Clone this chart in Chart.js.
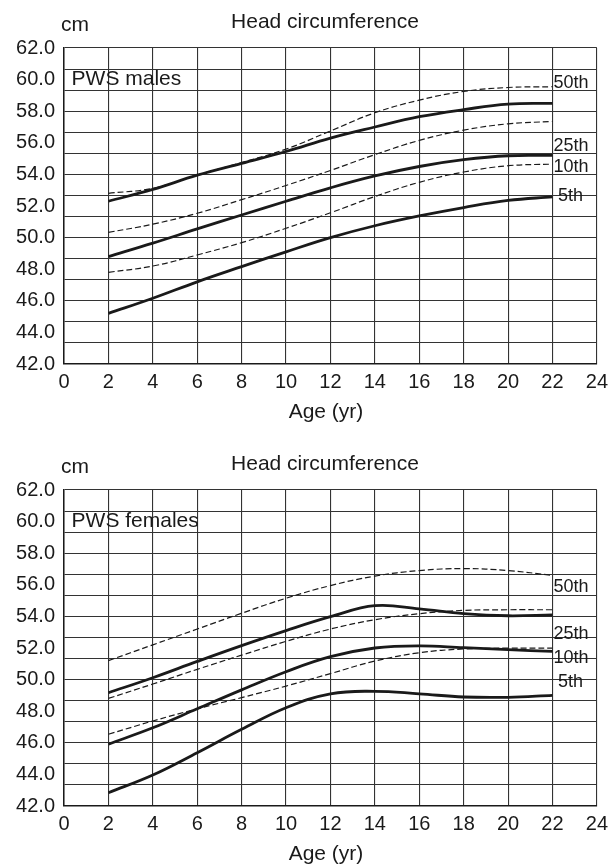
<!DOCTYPE html>
<html>
<head>
<meta charset="utf-8">
<script src="https://cdn.jsdelivr.net/npm/chart.js@4.4.1/dist/chart.umd.min.js"></script>
<style>
  body { margin: 0; background: #fff; }
  canvas { display: block; }
</style>
</head>
<body>
<canvas id="males" width="614" height="442"></canvas>
<canvas id="females" width="614" height="425"></canvas>
<script>
const ages = [2, 4, 6, 8, 10, 12, 14, 16, 18, 20, 22]
const ageTicks = [0, 2, 4, 6, 8, 10, 12, 14, 16, 18, 20, 22, 24]
const cmTicks = [42, 44, 46, 48, 50, 52, 54, 56, 58, 60, 62]
const gridRows = 15

// PWS males
const maleSolidHigh = [52.3, 53.05, 53.95, 54.7, 55.45, 56.3, 57.0, 57.65, 58.1, 58.45, 58.5]
const maleDashHigh = [52.8, 53.12, 53.95, 54.75, 55.6, 56.75, 57.9, 58.7, 59.25, 59.5, 59.55]
const maleDashMid = [50.33, 50.85, 51.54, 52.4, 53.3, 54.25, 55.25, 56.15, 56.8, 57.2, 57.35]
const maleSolidMid = [48.8, 49.65, 50.55, 51.43, 52.3, 53.15, 53.9, 54.5, 54.93, 55.18, 55.2]
const maleDashLow = [47.8, 48.2, 48.9, 49.68, 50.59, 51.57, 52.6, 53.5, 54.15, 54.55, 54.65]
const maleSolidLow = [45.2, 46.16, 47.2, 48.16, 49.1, 50.0, 50.75, 51.37, 51.9, 52.35, 52.58]

// PWS females
const femSolidHigh = [49.17, 50.12, 51.15, 52.15, 53.1, 53.98, 54.68, 54.48, 54.17, 54.04, 54.1]
const femDashHigh = [51.2, 52.2, 53.2, 54.2, 55.15, 55.95, 56.55, 56.9, 57.03, 56.9, 56.6]
const femDashMid = [48.81, 49.72, 50.65, 51.55, 52.42, 53.2, 53.79, 54.17, 54.38, 54.42, 54.42]
const femSolidMid = [45.92, 46.95, 48.15, 49.35, 50.5, 51.45, 52.0, 52.14, 52.02, 51.9, 51.78]
const femDashLow = [46.54, 47.38, 48.15, 48.86, 49.59, 50.38, 51.17, 51.7, 51.94, 51.99, 51.99]
const femSolidLow = [42.84, 43.96, 45.37, 46.85, 48.22, 49.1, 49.26, 49.1, 48.9, 48.88, 49.0]

const percentileNames = ["50th", "25th", "10th", "5th"]
const malePercentileAt = [59.77, 55.8, 54.49, 52.63]
const femPercentileAt = [55.84, 52.89, 51.35, 49.87]

const ink = "#1a1a1a"
const gridColor = "#333"
const fontFamily = '"Liberation Sans", Arial, Helvetica, sans-serif'

const solid = (data) => ({
  data,
  borderColor: ink,
  borderWidth: 2.8,
  pointRadius: 0,
  fill: false,
  tension: 0.4,
})

const dashed = (data) => ({
  data,
  borderColor: ink,
  borderWidth: 1.2,
  borderDash: [6, 3],
  pointRadius: 0,
  fill: false,
  tension: 0.4,
})

const annotate = (groupLabel, percentileAt) => ({
  id: "annotate",
  afterDraw(chart) {
    const { ctx, scales } = chart
    const { x, y } = scales
    ctx.save()
    ctx.fillStyle = ink
    ctx.textBaseline = "middle"
    ctx.font = "21px " + fontFamily
    ctx.textAlign = "center"
    ctx.fillText("Head circumference", 325, 22)
    ctx.fillText("Age (yr)", 326, 412)
    ctx.textAlign = "left"
    ctx.fillText("cm", 61, 25)
    ctx.fillText(groupLabel, x.getPixelForValue(0.34), y.getPixelForValue(60))
    ctx.font = "18px " + fontFamily
    percentileNames.forEach((name, i) => {
      const at = i === 3 ? 22.25 : 22.05
      ctx.fillText(name, x.getPixelForValue(at), y.getPixelForValue(percentileAt[i]))
    })
    ctx.restore()
  },
})

const drawChart = (id, groupLabel, series, percentileAt) => {
  const canvas = document.getElementById(id)
  const step = (cmTicks[cmTicks.length - 1] - cmTicks[0]) / (gridRows * 2)

  new Chart(canvas, {
    type: "line",
    data: {
      labels: ages,
      datasets: [
        dashed(series[1]),
        dashed(series[2]),
        dashed(series[4]),
        solid(series[0]),
        solid(series[3]),
        solid(series[5]),
      ].map((d) => ({ ...d, data: d.data.map((v, i) => ({ x: ages[i], y: v })) })),
    },
    options: {
      responsive: false,
      animation: false,
      layout: { padding: { top: 48, right: 12, left: 0, bottom: 0 } },
      plugins: {
        legend: { display: false },
        tooltip: { enabled: false },
        title: { display: false },
      },
      scales: {
        x: {
          type: "linear",
          min: ageTicks[0],
          max: ageTicks[ageTicks.length - 1],
          afterBuildTicks: (scale) => {
            scale.ticks = ageTicks.map((v) => ({ value: v }))
          },
          afterFit: (scale) => {
            scale.height = canvas.height - 364
          },
          ticks: {
            autoSkip: false,
            maxRotation: 0,
            padding: 6,
            color: ink,
            font: { family: fontFamily, size: 20 },
          },
          grid: { color: gridColor, lineWidth: 1.1, drawTicks: false },
          border: { color: ink, width: 1.5 },
        },
        y: {
          type: "linear",
          min: cmTicks[0],
          max: cmTicks[cmTicks.length - 1],
          afterBuildTicks: (scale) => {
            const ticks = []
            for (let i = 0; i <= gridRows * 2; i++) ticks.push({ value: cmTicks[0] + i * step })
            scale.ticks = ticks
          },
          afterFit: (scale) => {
            scale.width = 64
          },
          ticks: {
            autoSkip: false,
            padding: 9,
            color: ink,
            font: { family: fontFamily, size: 20 },
            callback: (value, i) => (i % 3 === 0 ? cmTicks[i / 3].toFixed(1) : ""),
          },
          grid: {
            drawTicks: false,
            lineWidth: 1.1,
            color: (c) => (c.index % 2 === 0 ? gridColor : "rgba(0,0,0,0)"),
          },
          border: { color: ink, width: 1.5 },
        },
      },
    },
    plugins: [annotate(groupLabel, percentileAt)],
  })
}

drawChart(
  "males",
  "PWS males",
  [maleSolidHigh, maleDashHigh, maleDashMid, maleSolidMid, maleDashLow, maleSolidLow],
  malePercentileAt
)
drawChart(
  "females",
  "PWS females",
  [femSolidHigh, femDashHigh, femDashMid, femSolidMid, femDashLow, femSolidLow],
  femPercentileAt
)
</script>
</body>
</html>
